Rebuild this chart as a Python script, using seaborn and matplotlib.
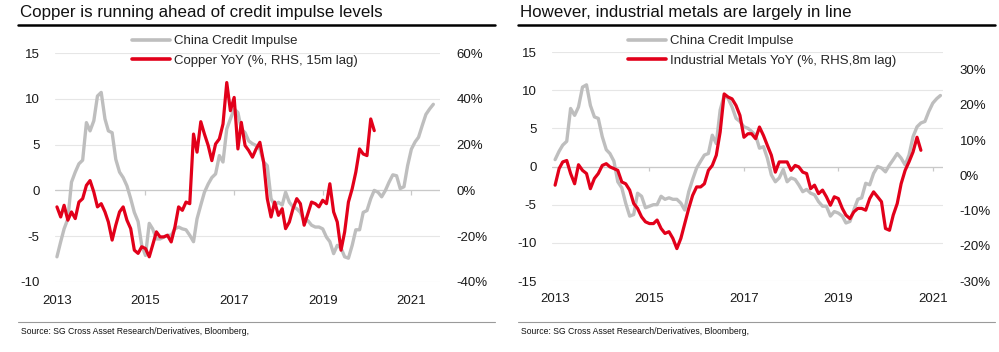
import matplotlib
matplotlib.use('Agg')
import matplotlib.pyplot as plt
import matplotlib.dates as mdates
from matplotlib.lines import Line2D
from matplotlib.ticker import FuncFormatter
import pandas as pd
import seaborn as sns

sns.set_style('white')
plt.rcParams['font.family'] = ['Liberation Sans', 'DejaVu Sans']
plt.rcParams['axes.unicode_minus'] = False

GREY = '#BEBEBE'
RED = '#E2001A'

# monthly series, all starting Jan 2013
# left panel: China credit impulse (LHS) vs copper YoY % (RHS, 15m lag)
impulse_left = [-7.25, -5.6, -4.2, -3.1, 0.9, 2.0, 2.9, 3.3, 7.4, 6.5, 7.6, 10.3,
                10.7, 7.8, 6.5, 6.3, 3.4, 2.0, 1.4, 0.5, -0.9, -2.4, -3.4, -6.0,
                -7.1, -3.6, -4.2, -5.3, -5.3, -5.1, -4.9, -4.9, -4.2, -4.0, -4.2, -4.3,
                -4.9, -5.6, -3.1, -1.6, -0.2, 0.7, 1.4, 1.8, 3.8, 3.1, 6.7, 7.8,
                8.9, 8.5, 6.7, 6.3, 5.4, 5.1, 4.9, 4.5, 3.1, 2.7, -0.9, -1.6,
                -1.3, -1.6, -0.2, -1.3, -1.8, -2.0, -2.4, -3.4, -3.3, -3.8, -4.0, -4.0,
                -4.2, -5.1, -5.6, -6.9, -6.0, -6.3, -7.25, -7.4, -6.0, -4.3, -4.3, -2.4,
                -2.2, -0.9, 0.0, -0.2, -0.7, 0.0, 0.9, 1.7, 1.6, 0.2, 0.4, 2.7,
                4.5, 5.3, 5.8, 7.1, 8.3, 8.9, 9.4]
copper_yoy = [-7.2, -11.6, -6.5, -13.0, -9.4, -12.3, -5.1, -3.6, 2.2, 4.3, -0.7, -7.2,
              -5.8, -9.4, -13.8, -21.7, -15.2, -9.4, -7.2, -13.0, -16.7, -26.1, -27.5, -24.6,
              -25.4, -29.0, -23.9, -18.1, -20.3, -20.3, -19.6, -22.5, -15.9, -7.2, -8.7, -5.1,
              -5.8, 24.6, 16.7, 30.0, 24.6, 19.6, 13.0, 20.3, 22.5, 29.0, 47.1, 34.8,
              40.6, 18.1, 29.7, 19.6, 17.4, 14.5, 18.1, 21.0, 12.3, -3.6, -11.6, -5.1,
              -10.9, -8.0, -16.7, -13.8, -8.0, -3.6, -5.8, -15.2, -10.1, -5.1, -5.8, -7.2,
              -4.3, -5.8, 2.9, -9.4, -13.8, -26.1, -18.1, -5.1, 0.7, 8.0, 18.1, 15.9,
              15.2, 31.2, 26.1]

# right panel: China credit impulse (LHS) vs industrial metals YoY % (RHS, 8m lag)
impulse_right = [0.9, 2.0, 2.8, 3.3, 7.6, 6.7, 7.8, 10.4, 10.7, 8.0, 6.5, 6.3,
                 3.9, 2.2, 1.7, 0.7, -2.0, -2.8, -4.8, -6.5, -6.3, -3.5, -3.9, -5.4,
                 -5.2, -5.0, -5.0, -3.9, -4.3, -4.1, -4.3, -4.3, -4.8, -5.7, -3.3, -1.7,
                 -0.2, 0.7, 1.5, 1.7, 4.1, 3.0, 7.4, 9.3, 8.9, 7.8, 6.3, 5.9,
                 5.2, 5.0, 4.6, 4.1, 2.4, 2.6, 1.1, -1.1, -2.0, -1.5, -0.4, -2.0,
                 -1.5, -1.7, -2.4, -3.3, -3.0, -3.5, -3.7, -4.6, -5.2, -5.2, -6.5, -5.9,
                 -6.1, -6.5, -7.4, -7.2, -5.7, -4.3, -4.1, -2.2, -2.4, -0.9, 0.0, -0.2,
                 -0.7, 0.2, 0.9, 1.7, 1.1, 0.2, 1.5, 3.9, 5.2, 5.7, 5.9, 7.2,
                 8.3, 8.9, 9.3]
metals_yoy = [-2.8, 1.9, 3.8, 4.2, 0.5, -2.4, 3.0, 1.4, 0.5, -3.8, -0.9, 0.5,
              2.8, 3.3, 2.4, 1.9, 1.4, -1.9, -2.4, -4.2, -8.0, -9.4, -11.8, -13.2,
              -13.7, -13.7, -12.7, -15.1, -16.5, -16.0, -17.9, -20.8, -17.9, -13.7, -9.4, -5.7,
              -3.3, -3.3, -2.4, 1.4, 2.8, 5.7, 12.3, 23.1, 22.2, 21.7, 19.8, 17.0,
              10.8, 11.8, 11.8, 10.4, 13.7, 11.3, 8.5, 5.7, 0.9, 3.8, 3.8, 3.8,
              1.4, 2.8, 2.4, 0.9, 0.5, -3.8, -2.8, -5.2, -4.2, -6.1, -8.5, -6.1,
              -6.6, -9.4, -11.3, -12.3, -10.4, -9.4, -9.4, -9.9, -6.6, -4.7, -6.1, -7.5,
              -15.1, -15.6, -11.3, -8.0, -2.4, 1.4, 3.8, 6.6, 10.8, 7.1]

year_ticks = ['2013', '2015', '2017', '2019', '2021']
titles = ['Copper is running ahead of credit impulse levels',
          'However, industrial metals are largely in line']
yoy_labels = ['Copper YoY (%, RHS, 15m lag)', 'Industrial Metals YoY (%, RHS,8m lag)']
impulse_label = 'China Credit Impulse'
source = 'Source: SG Cross Asset Research/Derivatives, Bloomberg,'

W, H = 999, 352


def monthly(vals):
    return pd.DataFrame({'date': pd.date_range('2013-01-01', periods=len(vals), freq='MS'),
                         'value': vals})


def fx(px):
    return px / W


def fy(py):
    return 1 - py / H


def draw_panel(fig, box, impulse, yoy, lim_l, lim_r, ticks_l, ticks_r, xlim,
               title, yoy_label, x0, x1, legend_x):
    left, top, right, bottom = box
    ax = fig.add_axes([fx(left), fy(bottom), fx(right - left), (bottom - top) / H])
    ax2 = ax.twinx()

    sns.lineplot(data=monthly(impulse), x='date', y='value', ax=ax, color=GREY, lw=2.4)
    sns.lineplot(data=monthly(yoy), x='date', y='value', ax=ax2, color=RED, lw=2.3)

    ax.set_ylim(*lim_l)
    ax.set_yticks(ticks_l)
    ax2.set_ylim(*lim_r)
    ax2.set_yticks(ticks_r)
    ax2.yaxis.set_major_formatter(FuncFormatter(lambda v, p: f'{v:.0f}%'))
    years = pd.to_datetime([y + '-01-01' for y in year_ticks])
    ax.set_xticks(years)
    ax.xaxis.set_major_formatter(mdates.DateFormatter('%Y'))
    ax.set_xlim(pd.Timestamp(xlim[0]), pd.Timestamp(xlim[1]))

    for a in (ax, ax2):
        a.set_xlabel('')
        a.set_ylabel('')
        for s in a.spines.values():
            s.set_visible(False)
        a.tick_params(length=0, labelsize=9.5, colors='#1a1a1a')
    ax.tick_params(axis='y', pad=11)
    ax2.tick_params(axis='y', pad=12)
    ax.tick_params(axis='x', pad=9)

    ax.yaxis.grid(True, color='#E6E6E6', lw=0.8)
    ax.set_axisbelow(True)
    ax.axhline(0, color='#C9C9C9', lw=0.9, zorder=1)
    span = lim_l[1] - lim_l[0]
    ax.vlines(years[1:], -0.018 * span, 0, color='#C9C9C9', lw=0.9, zorder=1)

    handles = [Line2D([], [], color=GREY, lw=2.6), Line2D([], [], color=RED, lw=2.6)]
    ax2.legend(handles, [impulse_label, yoy_label], loc='upper left',
               bbox_to_anchor=(fx(legend_x), fy(35)), bbox_transform=fig.transFigure,
               frameon=False, fontsize=9.5, handlelength=2.9, handletextpad=0.3,
               labelspacing=0.55, borderpad=0, borderaxespad=0)

    fig.text(fx(x0 + 2), fy(13), title, fontsize=12.2, va='center', ha='left', color='#111111')
    fig.add_artist(Line2D([fx(x0), fx(x1)], [fy(25), fy(25)], color='black', lw=1.8))
    fig.add_artist(Line2D([fx(x0), fx(x1)], [fy(322), fy(322)], color='#9A9A9A', lw=0.8))
    fig.text(fx(x0 + 3), fy(331), source, fontsize=6.2, va='center', ha='left',
             color='#111111')


fig = plt.figure(figsize=(W / 100, H / 100), dpi=100)

draw_panel(fig, (55, 53, 440, 282), impulse_left, copper_yoy, (-10, 15), (-40, 60),
           [-10, -5, 0, 5, 10, 15], [-40, -20, 0, 20, 40, 60],
           ('2012-12-16', '2021-08-25'), titles[0], yoy_labels[0], 18, 495, 132)
draw_panel(fig, (552, 52, 943, 281), impulse_right, metals_yoy, (-15, 15), (-30, 35),
           [-15, -10, -5, 0, 5, 10, 15], [-30, -20, -10, 0, 10, 20, 30],
           ('2012-12-08', '2021-03-21'), titles[1], yoy_labels[1], 518, 995, 628)

plt.savefig('out.png', dpi=100)
